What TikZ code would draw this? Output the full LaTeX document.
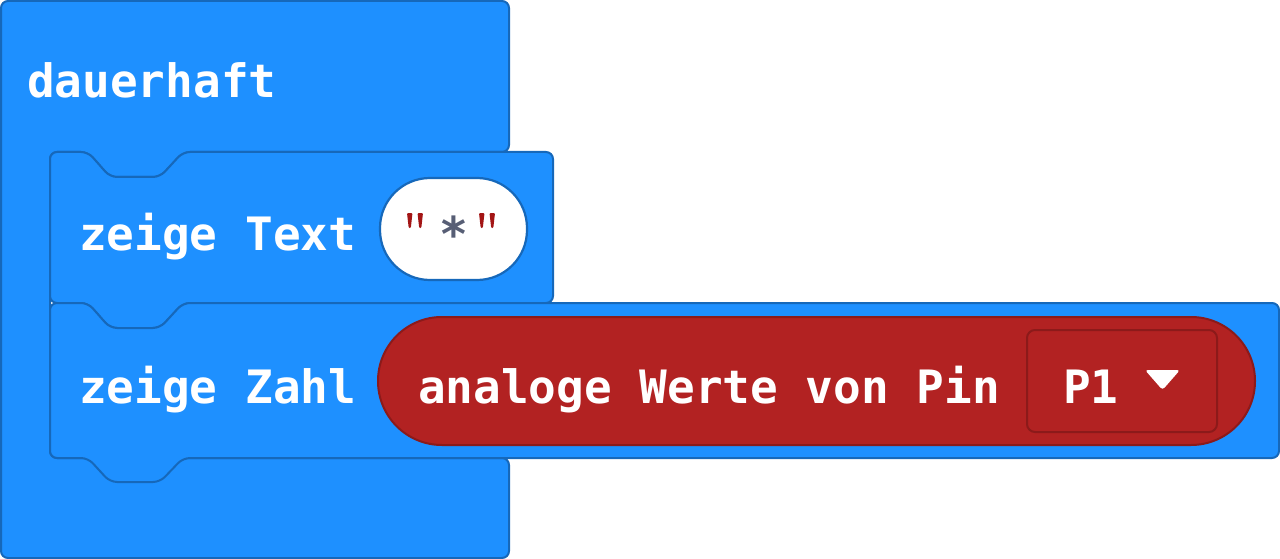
\documentclass[tikz,border=0pt]{standalone}
\usepackage{fontspec}
\newfontfamily\blk{DejaVu Sans Mono}
\definecolor{blkblue}{HTML}{1E90FF}
\definecolor{blkblueline}{HTML}{1668BA}
\definecolor{pinred}{HTML}{B22222}
\definecolor{pinredline}{HTML}{8C1A1A}
\definecolor{quotered}{HTML}{A31515}
\definecolor{stargrey}{HTML}{575E75}
\begin{document}
\begin{tikzpicture}[x=1pt,y=-1pt]
\tikzset{
 stmt/.style={fill=blkblue, draw=blkblueline, line width=2pt, line join=round, rounded corners=7pt},
 reporter/.style={fill=pinred, draw=pinredline, line width=2pt},
 lbl/.style={text=white, font=\blk\bfseries\fontsize{46}{46}\selectfont, anchor=base west, inner sep=0pt},
 tick/.style={fill=quotered, rounded corners=1pt},
}
\useasboundingbox (0,0) rectangle (1280,559);
% outer C block
\path[stmt] (1,300) -- (1,1) -- (509,1) -- (509,152) -- (183,152) -- (160,177) -- (110,177) -- (88,152) -- (50,152) -- (50,458) -- (509,458) -- (509,558) -- (1,558) -- cycle;
% zeige Text block
\path[stmt] (50,230) -- (50,152) -- (88,152) -- (110,177) -- (160,177) -- (183,152) -- (553,152) -- (553,303) -- (183,303) -- (160,328) -- (110,328) -- (88,303) -- (50,303) -- cycle;
% zeige Zahl block
\path[stmt] (50,380) -- (50,303) -- (88,303) -- (110,328) -- (160,328) -- (183,303) -- (1279,303) -- (1279,458) -- (183,458) -- (160,482) -- (110,482) -- (88,458) -- (50,458) -- cycle;
% string pill
\path[fill=white, draw=blkblueline, line width=2.2pt, rounded corners=50pt] (380,178) rectangle (527,280);
% quote ticks
\foreach \x in {407,417.5,479,489.5}{
  \path[tick] (\x,213) -- (\x+5.5,213) -- (\x+3.8,228) -- (\x+1.7,228) -- cycle;
}
% reporter
\path[reporter, rounded corners=63.9pt] (378,317) rectangle (1255,445);
\path[reporter, rounded corners=8pt] (1027,330) rectangle (1217,432);
\path[fill=white, rounded corners=3pt] (1145,370) -- (1180,370) -- (1162.5,390) -- cycle;
% labels
\node[lbl] (forever) at (27,98) {dauerhaft};
\node[lbl] (showtext) at (79,250) {zeige Text};
\node[lbl] (shownum) at (79,403) {zeige Zahl};
\node[lbl] (analog) at (418,403) {analoge Werte von Pin};
\node[lbl] (pin) at (1063,403) {P1};
\node[lbl, text=stargrey, font=\blk\bfseries\fontsize{48}{48}\selectfont] (star) at (439.5,251) {*};
\end{tikzpicture}
\end{document}
